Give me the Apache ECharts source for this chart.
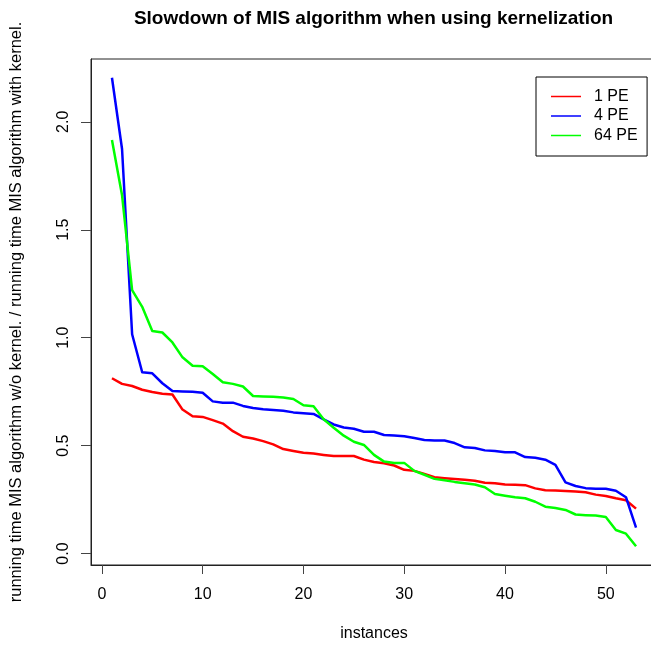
<!DOCTYPE html>
<html>
<head>
<meta charset="utf-8">
<title>Slowdown of MIS algorithm when using kernelization</title>
<script src="https://cdn.jsdelivr.net/npm/echarts@6/dist/echarts.min.js"></script>
<style>
  html, body { margin: 0; padding: 0; background: #fff; overflow: hidden; width: 651px; height: 647px; }
  /* the plot box runs past the right edge of the page, so the canvas is wider than the window */
  #chart { width: 665px; height: 647px; }
</style>
</head>
<body>
<div id="chart"></div>
<script>
// Instance index (sorted by slowdown) and slowdown ratios per PE count
const instances = [1,2,3,4,5,6,7,8,9,10,11,12,13,14,15,16,17,18,19,20,21,22,23,24,25,26,27,28,29,30,31,32,33,34,35,36,37,38,39,40,41,42,43,44,45,46,47,48,49,50,51,52,53];

const pe1 = [0.812,0.786,0.776,0.759,0.748,0.740,0.737,0.667,0.636,0.633,0.618,0.602,0.567,0.541,0.533,0.521,0.506,
             0.484,0.475,0.467,0.463,0.457,0.452,0.452,0.452,0.435,0.424,0.418,0.408,0.388,0.383,0.369,0.354,0.349,0.345,
             0.342,0.337,0.328,0.326,0.320,0.319,0.317,0.302,0.293,0.292,0.290,0.287,0.284,0.273,0.267,0.256,0.247,0.208];

const pe4 = [2.204,1.874,1.016,0.840,0.835,0.789,0.753,0.751,0.750,0.745,0.705,0.699,0.699,0.684,0.674,0.668,0.665,
             0.662,0.654,0.650,0.647,0.622,0.598,0.584,0.578,0.564,0.564,0.549,0.547,0.543,0.535,0.526,0.524,0.524,0.512,
             0.492,0.489,0.478,0.475,0.469,0.469,0.447,0.444,0.435,0.411,0.330,0.313,0.303,0.300,0.300,0.291,0.261,0.120];

const pe64 = [1.916,1.660,1.220,1.143,1.031,1.024,0.978,0.909,0.870,0.868,0.832,0.794,0.786,0.774,0.730,0.728,0.726,
              0.723,0.716,0.687,0.682,0.622,0.583,0.546,0.518,0.503,0.457,0.426,0.420,0.420,0.383,0.365,0.346,0.340,0.332,
              0.326,0.320,0.307,0.276,0.268,0.261,0.256,0.240,0.217,0.211,0.202,0.181,0.178,0.176,0.169,0.109,0.092,0.034];

const seriesNames = ['1 PE', '4 PE', '64 PE'];
const seriesColors = ['#ff0000', '#0000ff', '#00ff00'];

const xTicks = [0, 10, 20, 30, 40, 50];
const yTicks = [0.0, 0.5, 1.0, 1.5, 2.0];

const titleText = 'Slowdown of MIS algorithm when using kernelization';
const xTitle = 'instances';
const yTitle = 'running time MIS algorithm w/o kernel. / running time MIS algorithm with kernel.';

const FONT = '"Liberation Sans", Arial, Helvetica, sans-serif';

const pairs = vals => instances.map((x, i) => [x, vals[i]]);
const allSeries = [pe1, pe4, pe64].map((vals, k) => ({
  name: seriesNames[k],
  type: 'line',
  data: pairs(vals),
  showSymbol: false,
  symbol: 'none',
  clip: true,
  color: seriesColors[k],
  itemStyle: { color: seriesColors[k] },
  lineStyle: { color: seriesColors[k], width: 2.5, join: 'round' }
}));

const chart = echarts.init(document.getElementById('chart'), null, { renderer: 'canvas' });
chart.setOption({
  animation: false,
  backgroundColor: '#ffffff',
  textStyle: { fontFamily: FONT },
  title: {
    text: titleText,
    left: 373.5,
    textAlign: 'center',
    top: 9,
    padding: 0,
    textStyle: { fontFamily: FONT, fontSize: 19, fontWeight: 'bold', color: '#000' }
  },
  legend: {
    data: seriesNames,
    orient: 'vertical',
    left: 536,
    top: 77,
    padding: [10, 9.5, 11, 15],
    itemGap: 0.5,
    itemWidth: 30,
    itemHeight: 1.5,
    icon: 'rect',
    borderColor: '#000',
    borderWidth: 1,
    borderRadius: 0,
    backgroundColor: '#fff',
    textStyle: { fontFamily: FONT, fontSize: 16, color: '#000', lineHeight: 19, padding: [0, 0, 0, 8] }
  },
  grid: {
    left: 90,
    top: 59,
    width: 567,
    height: 509,
    show: true,
    borderColor: '#222',
    borderWidth: 1,
    backgroundColor: 'transparent',
    containLabel: false
  },
  xAxis: {
    type: 'value',
    min: -1.08,
    max: 55.08,
    name: xTitle,
    nameLocation: 'middle',
    nameGap: 61,
    nameTextStyle: { fontFamily: FONT, fontSize: 16, color: '#000' },
    axisLine: { show: true, onZero: false, lineStyle: { color: '#222', width: 1 } },
    axisTick: { show: true, length: 9, customValues: xTicks, lineStyle: { color: '#444', width: 1 } },
    axisLabel: { show: true, customValues: xTicks, margin: 22, fontFamily: FONT, fontSize: 16, color: '#000' },
    splitLine: { show: false }
  },
  yAxis: {
    type: 'value',
    min: -0.053,
    max: 2.291,
    name: yTitle,
    nameLocation: 'middle',
    nameGap: 66,
    nameRotate: 90,
    nameTextStyle: { fontFamily: FONT, fontSize: 16.5, color: '#000' },
    axisLine: { show: true, onZero: false, lineStyle: { color: '#222', width: 1 } },
    axisTick: { show: true, length: 10, customValues: yTicks, lineStyle: { color: '#444', width: 1 } },
    axisLabel: {
      show: true,
      customValues: yTicks,
      rotate: 90,
      margin: 19,
      fontFamily: FONT,
      fontSize: 16,
      color: '#000',
      formatter: v => Number(v).toFixed(1)
    },
    splitLine: { show: false }
  },
  series: allSeries
});
</script>
</body>
</html>
